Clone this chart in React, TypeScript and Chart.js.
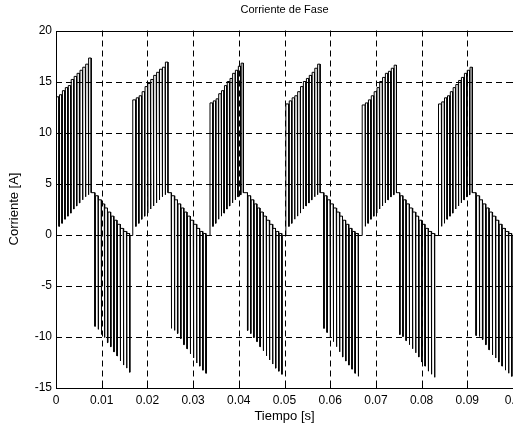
import { useEffect, useRef } from 'react';
import { Chart, registerables } from 'chart.js';

Chart.register(...registerables);

const chartTitle = 'Corriente de Fase';
const xLabel = 'Tiempo [s]';
const yLabel = 'Corriente [A]';

const xTickValues = [0, 0.01, 0.02, 0.03, 0.04, 0.05, 0.06, 0.07, 0.08, 0.09, 0.1];
const xTickLabels = ['0', '0.01', '0.02', '0.03', '0.04', '0.05', '0.06', '0.07', '0.08', '0.09', '0.1'];
const yTickValues = [-15, -10, -5, 0, 5, 10, 15, 20];
const yTickLabels = ['-15', '-10', '-5', '0', '5', '10', '15', '20'];

// burst timing (s)
const posStart = [0, 0.0168, 0.0337, 0.0503, 0.067, 0.0837];
const posEnd = [0.0077, 0.0245, 0.041, 0.0578, 0.0745, 0.0911];
const negStart = [0.0085, 0.0252, 0.0419, 0.0586, 0.0752, 0.0919];
const negEnd = [0.0161, 0.0328, 0.0494, 0.0661, 0.0828, 0.0997];

// positive bursts: held upper levels (A)
const posTop1 = [13.5, 13.7, 14.1, 14.4, 14.6, 15.2, 15.5, 15.8, 16.1, 16.4, 16.7, 17.3];
const posTop2 = [13.2, 13.4, 13.6, 14.0, 14.5, 14.8, 15.2, 15.6, 15.9, 16.2, 16.4, 16.9];
const posTop3 = [12.9, 13.1, 13.3, 13.8, 14.1, 14.6, 15.0, 15.3, 15.8, 16.1, 16.5, 16.8];
const posTop4 = [12.8, 13.1, 13.4, 13.6, 14.0, 14.5, 15.0, 15.3, 15.6, 15.9, 16.3, 16.7];
const posTop5 = [12.7, 12.9, 13.2, 13.6, 14.0, 14.4, 15.0, 15.4, 15.8, 16.0, 16.3, 16.6];
const posTop6 = [12.8, 13.0, 13.4, 13.6, 14.0, 14.4, 14.7, 15.1, 15.4, 15.8, 16.1, 16.4];
// positive bursts: bottoms of the dips (A)
const posDip = [0.8, 1.1, 1.5, 1.8, 2.1, 2.5, 2.8, 3.1, 3.4, 3.7, 3.9];
const posAfter = 4.1;
const startLevel = 0.5;

// negative bursts: bottoms of the dips (A)
const negDip1 = [-9.0, -9.3, -9.8, -10.1, -10.6, -11.0, -11.5, -11.9, -12.4, -12.8, -13.1, -13.5];
const negDip2 = [-9.2, -9.4, -9.7, -10.2, -10.8, -11.2, -11.7, -12.1, -12.6, -12.9, -13.3, -13.6];
const negDip3 = [-9.4, -9.7, -10.1, -10.5, -11.0, -11.4, -11.9, -12.3, -12.7, -13.1, -13.4, -13.7];
const negDip4 = [-9.2, -9.6, -10.1, -10.5, -11.0, -11.5, -12.0, -12.4, -12.8, -13.2, -13.6, -13.9];
const negDip5 = [-9.8, -10.0, -10.4, -10.8, -11.2, -11.6, -12.0, -12.5, -12.9, -13.4, -13.7, -14.0];
const negDip6 = [-9.9, -10.0, -10.3, -10.8, -11.3, -11.8, -12.1, -12.5, -12.9, -13.3, -13.6, -13.9];
// negative bursts: held upper levels after each dip (A)
const negHold = [3.8, 3.4, 3.0, 2.6, 2.2, 1.8, 1.4, 1.0, 0.6, 0.3, 0.1, -0.1];

const dipWidth = 0.00012;

const posTops = [posTop1, posTop2, posTop3, posTop4, posTop5, posTop6];
const negDips = [negDip1, negDip2, negDip3, negDip4, negDip5, negDip6];

function buildPoints() {
  const pts: { x: number; y: number }[] = [];
  let level = startLevel;
  for (let b = 0; b < posStart.length; b++) {
    const ts = posStart[b];
    const te = posEnd[b];
    const tops = posTops[b];
    const P = (te - ts) / tops.length;
    pts.push({ x: ts, y: level }, { x: ts, y: tops[0] });
    for (let k = 1; k < tops.length; k++) {
      const t = ts + k * P;
      pts.push(
        { x: t, y: tops[k - 1] },
        { x: t, y: posDip[k - 1] },
        { x: t + dipWidth, y: posDip[k - 1] },
        { x: t + dipWidth, y: tops[k] }
      );
    }
    pts.push({ x: te, y: tops[tops.length - 1] }, { x: te, y: posAfter });
    level = posAfter;
    const ns = negStart[b];
    const ne = negEnd[b];
    const dips = negDips[b];
    const Q = (ne - ns) / (dips.length - 1);
    for (let k = 0; k < dips.length; k++) {
      const t = ns + k * Q;
      pts.push(
        { x: t, y: level },
        { x: t, y: dips[k] },
        { x: t + dipWidth, y: dips[k] },
        { x: t + dipWidth, y: negHold[k] }
      );
      level = negHold[k];
    }
  }
  pts.push({ x: 0.1, y: level });
  return pts;
}

const FONT = 'Liberation Sans, Arial, Helvetica, sans-serif';

const framePlugin = {
  id: 'matlabFrame',
  beforeDatasetsDraw(chart: any) {
    const { ctx, chartArea } = chart;
    const xs = chart.scales.x;
    const ys = chart.scales.y;
    ctx.save();
    ctx.strokeStyle = '#000';
    ctx.lineWidth = 1;
    ctx.setLineDash([6, 4]);
    for (const v of xTickValues) {
      const px = Math.round(xs.getPixelForValue(v)) + 0.5;
      if (px <= chartArea.left + 1 || px >= chartArea.right - 1) continue;
      ctx.beginPath();
      ctx.moveTo(px, chartArea.top);
      ctx.lineTo(px, chartArea.bottom);
      ctx.stroke();
    }
    for (const v of yTickValues) {
      const py = Math.round(ys.getPixelForValue(v)) + 0.5;
      if (py <= chartArea.top + 1 || py >= chartArea.bottom - 1) continue;
      ctx.beginPath();
      ctx.moveTo(chartArea.left, py);
      ctx.lineTo(chartArea.right, py);
      ctx.stroke();
    }
    ctx.restore();
  },
  afterDatasetsDraw(chart: any) {
    const { ctx, chartArea } = chart;
    const xs = chart.scales.x;
    const ys = chart.scales.y;
    const l = Math.round(chartArea.left) + 0.5;
    const r = Math.round(chartArea.right) + 0.5;
    const t = Math.round(chartArea.top) + 0.5;
    const b = Math.round(chartArea.bottom) + 0.5;
    ctx.save();
    ctx.strokeStyle = '#000';
    ctx.lineWidth = 1;
    ctx.setLineDash([]);
    ctx.strokeRect(l, t, r - l, b - t);
    const tl = 4;
    ctx.beginPath();
    for (const v of xTickValues) {
      const px = Math.round(xs.getPixelForValue(v)) + 0.5;
      ctx.moveTo(px, b);
      ctx.lineTo(px, b - tl);
      ctx.moveTo(px, t);
      ctx.lineTo(px, t + tl);
    }
    for (const v of yTickValues) {
      const py = Math.round(ys.getPixelForValue(v)) + 0.5;
      ctx.moveTo(l, py);
      ctx.lineTo(l + tl, py);
      ctx.moveTo(r, py);
      ctx.lineTo(r - tl, py);
    }
    ctx.stroke();
    ctx.restore();
  },
};

export default function App() {
  const canvasRef = useRef<HTMLCanvasElement | null>(null);

  useEffect(() => {
    document.body.style.margin = '0';
    const canvas = canvasRef.current;
    if (!canvas) return;
    const tickFont = { family: FONT, size: 12, weight: 'normal' as const };
    const labelFont = { family: FONT, size: 13, weight: 'normal' as const };
    const titleFont = { family: FONT, size: 11, weight: 'normal' as const };
    const chart = new Chart(canvas, {
      type: 'line',
      data: {
        datasets: [
          {
            data: buildPoints(),
            borderColor: '#000',
            borderWidth: 1,
            pointRadius: 0,
            tension: 0,
            fill: false,
          },
        ],
      },
      options: {
        animation: false,
        responsive: false,
        devicePixelRatio: 1,
        layout: { padding: 0 },
        plugins: {
          legend: { display: false },
          tooltip: { enabled: false },
          title: { display: false },
        },
        scales: {
          x: {
            type: 'linear',
            position: 'bottom',
            min: 0,
            max: 0.1,
            grid: { display: false, drawTicks: false },
            border: { display: false },
            afterBuildTicks: (scale: any) => {
              scale.ticks = xTickValues.map((v) => ({ value: v }));
            },
            ticks: {
              color: '#000',
              font: tickFont,
              padding: 6,
              maxRotation: 0,
              autoSkip: false,
              callback: (_v: any, i: number) => xTickLabels[i],
            },
            title: {
              display: true,
              text: xLabel,
              color: '#000',
              font: labelFont,
              padding: { top: 0, bottom: 3 },
            },
            afterFit: (scale: any) => {
              scale.height = 39.5;
              scale.paddingLeft = 0;
              scale.paddingRight = 0;
            },
          },
          x2: {
            type: 'linear',
            position: 'top',
            min: 0,
            max: 0.1,
            grid: { display: false, drawTicks: false },
            border: { display: false },
            ticks: { display: false },
            title: {
              display: true,
              text: chartTitle,
              color: '#000',
              font: titleFont,
              padding: { top: 3.5, bottom: 0 },
            },
            afterFit: (scale: any) => {
              scale.height = 30.5;
              scale.paddingLeft = 0;
              scale.paddingRight = 0;
            },
          },
          y: {
            type: 'linear',
            min: -15,
            max: 20,
            grid: { display: false, drawTicks: false },
            border: { display: false },
            afterBuildTicks: (scale: any) => {
              scale.ticks = yTickValues.map((v) => ({ value: v }));
            },
            ticks: {
              color: '#000',
              font: tickFont,
              padding: 4,
              autoSkip: false,
              callback: (_v: any, i: number) => yTickLabels[i],
            },
            title: {
              display: true,
              text: yLabel,
              color: '#000',
              font: labelFont,
              padding: { top: 7, bottom: 0 },
            },
            afterFit: (scale: any) => {
              scale.width = 56;
            },
          },
        },
      },
      plugins: [framePlugin],
    });
    return () => chart.destroy();
  }, []);

  return (
    <div style={{ position: 'absolute', left: 0, top: 0, width: 513, height: 427 }}>
      <canvas ref={canvasRef} width={513} height={427} style={{ width: 513, height: 427 }} />
    </div>
  );
}
